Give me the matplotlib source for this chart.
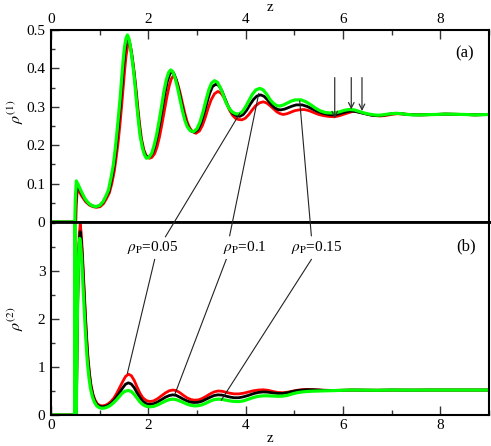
import matplotlib
matplotlib.use("Agg")
import matplotlib.pyplot as plt
from matplotlib.patches import ConnectionPatch
from matplotlib.ticker import MultipleLocator

plt.rcParams['font.family'] = ['Liberation Serif', 'DejaVu Serif']
plt.rcParams['mathtext.fontset'] = 'stix'

# ---------------- data: panel (a) rho^(1) ----------------
z_g1 = [0.0, 0.49, 0.50, 0.52, 0.56, 0.62, 0.7, 0.78, 0.85, 0.92, 1.0, 1.07, 1.13, 1.18, 1.23, 1.28, 1.32,
        1.35, 1.39, 1.42, 1.45, 1.48, 1.51, 1.54, 1.57, 1.60, 1.63, 1.66, 1.69, 1.72, 1.755, 1.79, 1.83,
        1.88, 1.92, 1.96, 2.01, 2.07, 2.12, 2.17, 2.22, 2.27, 2.32, 2.37, 2.42, 2.46, 2.50, 2.55, 2.60,
        2.65, 2.70, 2.75, 2.80, 2.86, 2.93, 3.0, 3.06, 3.12, 3.18, 3.24, 3.30, 3.36, 3.42, 3.48, 3.54,
        3.60, 3.66, 3.72, 3.79, 3.86, 3.93, 4.0, 4.07, 4.14, 4.21, 4.29, 4.36, 4.43, 4.50, 4.57, 4.64,
        4.70, 4.78, 4.86, 4.94, 5.02, 5.14, 5.24, 5.34, 5.44, 5.54, 5.64, 5.74, 5.83, 5.93, 6.03, 6.13,
        6.23, 6.33, 6.43, 6.53, 6.63, 6.72, 6.82, 6.92, 7.0, 7.09, 7.2, 7.32, 7.45, 7.6, 7.75, 7.9, 8.1,
        8.3, 8.5, 8.7, 9.0]
rho1_g = [0.0, 0.0, 0.06, 0.107, 0.097, 0.080, 0.060, 0.048, 0.042, 0.040, 0.043, 0.053, 0.068, 0.083,
          0.113, 0.148, 0.19, 0.227, 0.28, 0.322, 0.37, 0.417, 0.455, 0.478, 0.487, 0.478, 0.458, 0.43,
          0.40, 0.365, 0.315, 0.27, 0.225, 0.192, 0.175, 0.166, 0.168, 0.179, 0.20, 0.227, 0.262, 0.30,
          0.34, 0.371, 0.39, 0.396, 0.392, 0.375, 0.35, 0.32, 0.29, 0.265, 0.248, 0.238, 0.235, 0.243,
          0.26, 0.285, 0.315, 0.343, 0.362, 0.368, 0.364, 0.35, 0.33, 0.31, 0.296, 0.287, 0.282, 0.281,
          0.287, 0.30, 0.317, 0.333, 0.344, 0.348, 0.344, 0.333, 0.319, 0.309, 0.303, 0.302, 0.305,
          0.310, 0.315, 0.318, 0.318, 0.313, 0.305, 0.296, 0.289, 0.285, 0.284, 0.284, 0.287, 0.291,
          0.293, 0.292, 0.288, 0.284, 0.281, 0.279, 0.278, 0.279, 0.281, 0.282, 0.283, 0.282, 0.280,
          0.279, 0.279, 0.2795, 0.280, 0.281, 0.2805, 0.280, 0.279, 0.280]

z_k1 = [0.0, 0.50, 0.51, 0.53, 0.57, 0.63, 0.7, 0.78, 0.85, 0.92, 1.0, 1.07, 1.13, 1.19, 1.24, 1.29, 1.33,
        1.36, 1.40, 1.43, 1.46, 1.49, 1.52, 1.55, 1.58, 1.61, 1.64, 1.67, 1.70, 1.73, 1.765, 1.80, 1.84,
        1.89, 1.93, 1.98, 2.03, 2.09, 2.14, 2.19, 2.24, 2.29, 2.34, 2.39, 2.44, 2.48, 2.52, 2.57, 2.62,
        2.67, 2.72, 2.77, 2.82, 2.88, 2.95, 3.02, 3.08, 3.14, 3.20, 3.26, 3.32, 3.39, 3.45, 3.51, 3.57,
        3.63, 3.69, 3.75, 3.81, 3.88, 3.95, 4.02, 4.09, 4.16, 4.23, 4.31, 4.38, 4.45, 4.52, 4.59, 4.66,
        4.72, 4.80, 4.88, 4.96, 5.04, 5.16, 5.26, 5.36, 5.46, 5.56, 5.66, 5.75, 5.83, 5.93, 6.04, 6.15,
        6.25, 6.35, 6.45, 6.55, 6.64, 6.72, 6.82, 6.92, 7.0, 7.09, 7.2, 7.32, 7.45, 7.6, 7.75, 7.9, 8.1,
        8.3, 8.5, 8.7, 9.0]
rho1_k = [0.0, 0.0, 0.05, 0.095, 0.088, 0.074, 0.058, 0.047, 0.042, 0.040, 0.042, 0.051, 0.065, 0.080,
          0.108, 0.142, 0.182, 0.217, 0.27, 0.312, 0.358, 0.405, 0.445, 0.470, 0.480, 0.472, 0.452,
          0.425, 0.395, 0.36, 0.312, 0.268, 0.224, 0.192, 0.176, 0.168, 0.170, 0.180, 0.20, 0.226, 0.26,
          0.297, 0.335, 0.366, 0.385, 0.392, 0.388, 0.372, 0.347, 0.317, 0.288, 0.263, 0.247, 0.237,
          0.234, 0.241, 0.257, 0.281, 0.309, 0.335, 0.353, 0.359, 0.355, 0.342, 0.323, 0.304, 0.29,
          0.281, 0.277, 0.275, 0.280, 0.291, 0.306, 0.319, 0.328, 0.331, 0.327, 0.318, 0.307, 0.298,
          0.293, 0.292, 0.294, 0.298, 0.302, 0.305, 0.305, 0.301, 0.295, 0.289, 0.284, 0.281, 0.279,
          0.279, 0.282, 0.286, 0.289, 0.288, 0.285, 0.282, 0.279, 0.277, 0.277, 0.278, 0.280, 0.282,
          0.283, 0.282, 0.280, 0.279, 0.279, 0.2795, 0.280, 0.281, 0.2805, 0.280, 0.279, 0.280]

z_r1 = [0.0, 0.51, 0.52, 0.54, 0.58, 0.64, 0.71, 0.79, 0.86, 0.93, 1.01, 1.08, 1.14, 1.20, 1.25, 1.30,
        1.34, 1.38, 1.42, 1.45, 1.48, 1.51, 1.54, 1.57, 1.60, 1.63, 1.66, 1.69, 1.72, 1.75, 1.785, 1.82,
        1.86, 1.91, 1.96, 2.02, 2.07, 2.13, 2.18, 2.23, 2.28, 2.33, 2.38, 2.43, 2.47, 2.51, 2.55, 2.60,
        2.65, 2.70, 2.75, 2.80, 2.85, 2.91, 2.98, 3.05, 3.11, 3.17, 3.23, 3.29, 3.36, 3.43, 3.49, 3.55,
        3.61, 3.67, 3.73, 3.79, 3.85, 3.92, 3.99, 4.06, 4.13, 4.20, 4.28, 4.36, 4.43, 4.50, 4.57, 4.64,
        4.71, 4.77, 4.85, 4.93, 5.01, 5.10, 5.20, 5.30, 5.40, 5.50, 5.60, 5.70, 5.83, 5.93, 6.05, 6.20,
        6.30, 6.40, 6.50, 6.60, 6.75, 6.85, 6.95, 7.05, 7.12, 7.25, 7.4, 7.6, 7.75, 7.9, 8.1, 8.3, 8.5,
        8.7, 9.0]
rho1_r = [0.0, 0.0, 0.045, 0.085, 0.079, 0.066, 0.053, 0.044, 0.040, 0.038, 0.040, 0.048, 0.061, 0.076,
          0.100, 0.132, 0.168, 0.208, 0.258, 0.30, 0.345, 0.39, 0.43, 0.455, 0.465, 0.457, 0.437, 0.41,
          0.378, 0.343, 0.298, 0.256, 0.216, 0.187, 0.172, 0.166, 0.168, 0.178, 0.196, 0.222, 0.255, 0.29,
          0.325, 0.355, 0.372, 0.380, 0.376, 0.361, 0.338, 0.31, 0.283, 0.26, 0.245, 0.235, 0.231, 0.237,
          0.251, 0.272, 0.297, 0.318, 0.334, 0.340, 0.336, 0.325, 0.308, 0.291, 0.278, 0.27, 0.267,
          0.266, 0.270, 0.279, 0.291, 0.302, 0.310, 0.313, 0.310, 0.303, 0.295, 0.287, 0.282, 0.280,
          0.282, 0.286, 0.290, 0.292, 0.293, 0.290, 0.285, 0.280, 0.277, 0.275, 0.274, 0.277, 0.282,
          0.288, 0.287, 0.284, 0.281, 0.278, 0.276, 0.277, 0.279, 0.281, 0.282, 0.281, 0.280, 0.279,
          0.2795, 0.280, 0.281, 0.2805, 0.280, 0.279, 0.280]

# ---------------- data: panel (b) rho^(2) ----------------
z_g2 = [0.0, 0.49, 0.49, 0.50, 0.52, 0.535, 0.55, 0.57, 0.59, 0.61, 0.63, 0.65, 0.67, 0.69, 0.71, 0.73,
        0.75, 0.78, 0.81, 0.85, 0.89, 0.94, 0.99, 1.04, 1.10, 1.16, 1.22, 1.28, 1.34, 1.40, 1.46, 1.52,
        1.59, 1.65, 1.71, 1.77, 1.83, 1.89, 1.96, 2.03, 2.11, 2.19, 2.27, 2.35, 2.43, 2.50, 2.57, 2.64,
        2.72, 2.80, 2.88, 2.95, 3.03, 3.11, 3.19, 3.27, 3.35, 3.43, 3.51, 3.59, 3.67, 3.76, 3.86, 3.96,
        4.06, 4.16, 4.26, 4.36, 4.46, 4.56, 4.66, 4.76, 4.86, 4.96, 5.06, 5.16, 5.26, 5.4, 5.6, 5.8,
        6.0, 6.2, 6.4, 6.7, 7.0, 7.4, 7.8, 8.2, 8.6, 9.0]
rho2_g = [0.0, 0.0, 4.3, 0.0, 0.0, 1.5, 2.6, 3.35, 3.68, 3.55, 3.25, 2.85, 2.45, 2.05, 1.68, 1.35, 1.07,
          0.78, 0.56, 0.38, 0.27, 0.19, 0.155, 0.14, 0.145, 0.165, 0.20, 0.25, 0.31, 0.38, 0.45, 0.495,
          0.51, 0.49, 0.43, 0.35, 0.27, 0.215, 0.18, 0.17, 0.18, 0.21, 0.25, 0.29, 0.32, 0.33, 0.32,
          0.295, 0.26, 0.225, 0.20, 0.19, 0.195, 0.215, 0.25, 0.29, 0.32, 0.33, 0.325, 0.31, 0.295,
          0.283, 0.28, 0.295, 0.33, 0.365, 0.39, 0.40, 0.40, 0.395, 0.39, 0.393, 0.41, 0.44, 0.465,
          0.48, 0.49, 0.497, 0.503, 0.508, 0.515, 0.52, 0.518, 0.515, 0.52, 0.518, 0.52, 0.52, 0.52,
          0.52]

z_k2 = [0.0, 0.52, 0.54, 0.56, 0.58, 0.60, 0.62, 0.64, 0.66, 0.68, 0.70, 0.72, 0.74, 0.76, 0.79, 0.82,
        0.86, 0.90, 0.95, 1.00, 1.05, 1.11, 1.17, 1.23, 1.29, 1.35, 1.41, 1.47, 1.53, 1.59, 1.65, 1.71,
        1.77, 1.83, 1.89, 1.96, 2.03, 2.11, 2.19, 2.27, 2.35, 2.43, 2.50, 2.57, 2.64, 2.72, 2.80, 2.88,
        2.95, 3.03, 3.11, 3.19, 3.27, 3.35, 3.43, 3.51, 3.59, 3.67, 3.76, 3.86, 3.96, 4.06, 4.16, 4.26,
        4.36, 4.46, 4.56, 4.66, 4.76, 4.86, 4.96, 5.06, 5.16, 5.26, 5.4, 5.6, 5.8, 6.0, 6.2, 6.4, 6.7,
        7.0, 7.4, 7.8, 8.2, 8.6, 9.0]
rho2_k = [0.0, 0.0, 1.8, 3.0, 3.6, 3.82, 3.65, 3.35, 2.95, 2.55, 2.15, 1.77, 1.43, 1.14, 0.83, 0.60, 0.41,
          0.29, 0.21, 0.18, 0.17, 0.175, 0.20, 0.24, 0.30, 0.38, 0.47, 0.56, 0.64, 0.67, 0.645, 0.57,
          0.46, 0.36, 0.28, 0.235, 0.22, 0.235, 0.27, 0.32, 0.37, 0.405, 0.42, 0.41, 0.375, 0.33, 0.29,
          0.265, 0.26, 0.265, 0.29, 0.33, 0.37, 0.405, 0.42, 0.415, 0.395, 0.375, 0.36, 0.36, 0.38,
          0.41, 0.445, 0.47, 0.48, 0.475, 0.46, 0.45, 0.45, 0.465, 0.49, 0.51, 0.52, 0.527, 0.525,
          0.515, 0.512, 0.515, 0.52, 0.518, 0.515, 0.52, 0.518, 0.52, 0.52, 0.52, 0.52]

z_r2 = z_k2
rho2_r = [0.0, 0.0, 1.9, 3.1, 3.75, 3.97, 3.80, 3.48, 3.07, 2.65, 2.24, 1.85, 1.50, 1.20, 0.88, 0.64,
          0.44, 0.32, 0.235, 0.20, 0.19, 0.20, 0.23, 0.28, 0.35, 0.45, 0.57, 0.69, 0.80, 0.85, 0.82,
          0.72, 0.58, 0.45, 0.355, 0.30, 0.28, 0.295, 0.34, 0.40, 0.46, 0.505, 0.52, 0.51, 0.47, 0.41,
          0.355, 0.32, 0.31, 0.315, 0.345, 0.39, 0.44, 0.48, 0.50, 0.495, 0.475, 0.455, 0.44, 0.44,
          0.455, 0.48, 0.505, 0.52, 0.525, 0.515, 0.49, 0.47, 0.465, 0.475, 0.495, 0.515, 0.527, 0.532,
          0.528, 0.515, 0.51, 0.515, 0.52, 0.518, 0.515, 0.52, 0.518, 0.52, 0.52, 0.52, 0.52]

labels = [r'$\rho_\mathrm{P}$=0.05', r'$\rho_\mathrm{P}$=0.1', r'$\rho_\mathrm{P}$=0.15']
arrow_z = [5.83, 6.17, 6.39]
arrow_tip = [0.270, 0.293, 0.289]

W, H = 491, 446
fig = plt.figure(figsize=(W / 100, H / 100), dpi=100)
L, R = 51 / W, 489 / W
ax1 = fig.add_axes([L, 1 - 222 / H, R - L, (222 - 30) / H])
ax2 = fig.add_axes([L, 1 - 415 / H, R - L, (415 - 222) / H])

red, black, green = '#ff0000', '#000000', '#00ff00'
for ax, data in ((ax1, [(z_r1, rho1_r, red, 2.0), (z_k1, rho1_k, black, 2.0), (z_g1, rho1_g, green, 2.3)]),
                 (ax2, [(z_r2, rho2_r, red, 2.0), (z_k2, rho2_k, black, 2.0), (z_g2, rho2_g, green, 2.3)])):
    for zz, vv, c, lw in data:
        ax.plot(zz, vv, color=c, lw=lw, solid_joinstyle='round')
    ax.set_xlim(0, 9)
    for s in ax.spines.values():
        s.set_linewidth(1.5)
    ax.xaxis.set_major_locator(MultipleLocator(2))
    ax.xaxis.set_minor_locator(MultipleLocator(1))
    ax.tick_params(axis='both', which='major', direction='in', labelsize=11, width=1.0, color='#333333')
    ax.tick_params(axis='both', which='minor', direction='in', width=1.0, color='#333333')
    ax.tick_params(axis='x', which='major', length=6.5, pad=3)
    ax.tick_params(axis='x', which='minor', length=3.6)
    ax.tick_params(axis='y', which='major', length=5.5, pad=4)
    ax.tick_params(axis='y', which='minor', length=3.1)
    ax.tick_params(axis='y', which='both', right=False)
ax1.spines['bottom'].set_linewidth(2.0)
ax2.spines['top'].set_linewidth(2.0)

ax1.set_ylim(0, 0.5)
ax1.set_yticks([0, 0.1, 0.2, 0.3, 0.4, 0.5])
ax1.set_yticklabels(['0', '0.1', '0.2', '0.3', '0.4', '0.5'])
ax1.yaxis.set_minor_locator(MultipleLocator(0.05))
ax1.tick_params(axis='x', which='both', top=True, bottom=False, labeltop=True, labelbottom=False)
ax1.xaxis.set_label_position('top')
ax1.set_xlabel('z', fontsize=11, labelpad=1)
ax1.set_ylabel(r'$\rho^{(1)}$', fontsize=11.5)
ax1.yaxis.set_label_coords(-0.058, 0.573)
ax1.text(8.49, 0.44, '(a)', fontsize=12, ha='center', va='center')

ax2.set_ylim(0, 4.02)
ax2.set_yticks([0, 1, 2, 3])
ax2.yaxis.set_minor_locator(MultipleLocator(0.5))
ax2.tick_params(axis='x', which='both', top=False, bottom=True)
ax2.set_xlabel('z', fontsize=11, labelpad=0)
ax2.set_ylabel(r'$\rho^{(2)}$', fontsize=11.5)
ax2.yaxis.set_label_coords(-0.058, 0.497)
ax2.text(8.53, 3.51, '(b)', fontsize=12, ha='center', va='center')

# arrows in panel (a)
for az, at in zip(arrow_z, arrow_tip):
    ax1.annotate('', xy=(az, at), xytext=(az, 0.376),
                 arrowprops=dict(arrowstyle='->', lw=0.9, color='#333333',
                                 mutation_scale=10, shrinkA=0, shrinkB=0))

# labels with leader lines
label_pos = [(2.09, 3.48), (3.98, 3.48), (5.47, 3.48)]
top_start = [(2.35, 3.71), (3.67, 3.73), (5.35, 3.73)]
top_end = [(3.88, 0.283), (4.27, 0.335), (5.11, 0.316)]
bot_start = [(2.13, 3.24), (3.60, 3.24), (5.35, 3.24)]
bot_end = [(1.57, 0.87), (2.54, 0.42), (3.50, 0.31)]
for lab, lp, ts, te, bs, be in zip(labels, label_pos, top_start, top_end, bot_start, bot_end):
    ax2.text(lp[0], lp[1], lab, fontsize=11, ha='center', va='center')
    con = ConnectionPatch(xyA=ts, coordsA=ax2.transData, xyB=te, coordsB=ax1.transData,
                          color='#222222', lw=0.8)
    fig.add_artist(con)
    ax2.plot([bs[0], be[0]], [bs[1], be[1]], color='#222222', lw=0.8)

fig.savefig('out.png', dpi=100)
